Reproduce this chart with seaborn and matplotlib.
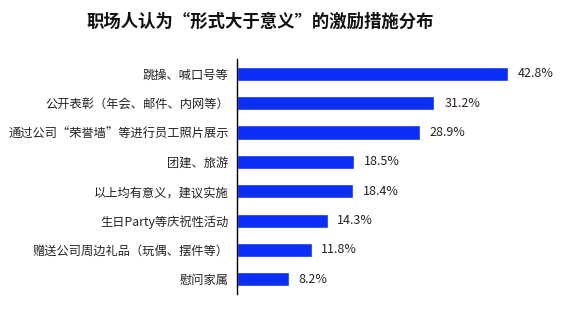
import matplotlib
matplotlib.use("Agg")
import matplotlib.pyplot as plt
import seaborn as sns
import pandas as pd

categories = [
    "跳操、喊口号等",
    "公开表彰（年会、邮件、内网等）",
    "通过公司“荣誉墙”等进行员工照片展示",
    "团建、旅游",
    "以上均有意义，建议实施",
    "生日Party等庆祝性活动",
    "赠送公司周边礼品（玩偶、摆件等）",
    "慰问家属",
]
values = [42.8, 31.2, 28.9, 18.5, 18.4, 14.3, 11.8, 8.2]
title = "职场人认为“形式大于意义”的激励措施分布"

sns.set_theme(style="white")
plt.rcParams['font.family'] = ['Noto Sans CJK SC', 'DejaVu Sans']

df = pd.DataFrame({"cat": categories, "val": values})

fig = plt.figure(figsize=(5.63, 3.09), dpi=100)
ax = fig.add_axes([0.421, 0.0485, 0.562, 0.7605])
sns.barplot(data=df, y="cat", x="val", orient="h", color="#0B2EF7",
            saturation=1, width=0.48, ax=ax)
ax.set_xlim(0, 50)
ax.set_ylim(7.5, -0.5)
ax.set_xlabel("")
ax.set_ylabel("")
ax.set_xticks([])
for s in ["top", "right", "bottom"]:
    ax.spines[s].set_visible(False)
ax.spines["left"].set_color("black")
ax.spines["left"].set_linewidth(1.0)
ax.tick_params(axis="y", length=0, pad=6, labelsize=8.8, labelcolor="#222222")
for c in ax.containers:
    ax.bar_label(c, labels=[f"{v}%" for v in values], padding=7,
                 fontsize=9, color="#222222")
fig.text(0.463, 0.93, title, ha="center", va="center", fontsize=12.5,
         fontweight="bold", color="#111111")
fig.savefig("out.png", dpi=100, facecolor="white")
